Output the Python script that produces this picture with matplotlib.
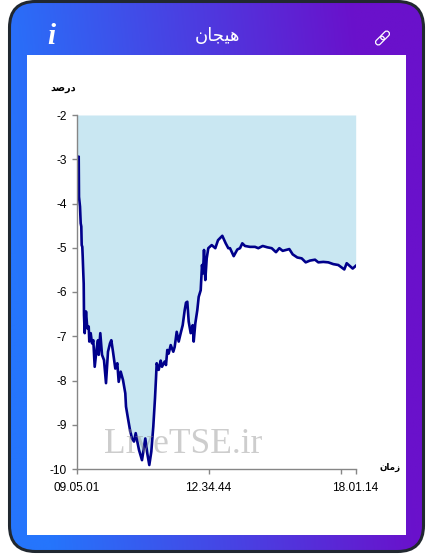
import numpy as np
import matplotlib
matplotlib.use('Agg')
import matplotlib.pyplot as plt
from matplotlib.patches import FancyBboxPatch, Rectangle
from matplotlib.colors import LinearSegmentedColormap
from matplotlib.transforms import Affine2D

plt.rcParams['axes.unicode_minus'] = False

# data
idx = [0, 0.5, 1.2, 1.8, 2.2, 2.5, 3.5, 4.2, 4.8, 5.2, 5.8, 6.2, 6.8, 7.2,
       7.5, 8.2, 9.5, 10.8, 12.2, 12.8, 14.2, 15.5, 16.8, 18.2, 20.2, 21.5, 22.2, 23.8, 25.5, 27.5,
       29.5, 31.5, 33.5, 34.8, 36.5, 38.8, 40.8, 42.2, 44.2, 46.5, 48.8,
       49.5, 51.5, 53.5, 55.5, 57.5, 59.2, 60.8, 62.5, 65.5, 66.8, 68.8, 70.8, 72.8, 74.8, 76.8, 78.5,
       79.5, 80.2, 82.2, 84.2, 85.5, 88.2, 89.5, 90.8, 92.2, 94.2, 96.8, 98.2, 100.2, 102.2, 104.2,
       106.2, 108.2, 109.5, 110.8, 112.2, 114.2, 116.2, 117.2, 118.8, 120.8, 122.2, 124.2,
       125.5, 126.5, 127.5, 128.8, 130.2,
       131.8, 135.2, 138.8, 141.5, 145.8, 149.2, 151.8, 153.5, 157.2, 160.8, 163.5, 165.8, 168.5, 173.5,
       178.5, 181.8, 186.2, 190.8, 195.2, 199.5, 202.8, 206.2, 212.8, 216.2, 220.8, 225.2, 229.2, 233.5,
       238.5, 241.8, 246.8, 251.8, 256.8, 261.8, 267.8, 270.2, 276.2, 279.2]
percent = [-3.3, -3.32, -3.85, -3.02, -2.94, -3.85, -4.07, -4.45, -4.52, -4.94, -4.98, -5.2, -5.58, -5.81,
           -6.52, -6.93, -6.44, -6.82, -6.78, -7.12, -6.93, -7.16, -7.09, -7.69, -7.27, -7.09, -7.42, -6.93, -7.42, -7.54,
           -8.06, -7.35, -7.16, -7.09, -7.35, -7.73, -7.61, -8.03, -7.80, -7.99, -8.29,
           -8.59, -8.86, -9.12, -9.31, -9.38, -9.19, -9.38, -9.57, -9.80, -9.61, -9.31, -9.65, -9.91, -9.61, -9.04, -8.40,
           -7.95, -7.61, -7.76, -7.55, -7.69, -7.57, -7.65, -7.31, -7.39, -7.20, -7.35, -7.24, -6.90, -7.12, -6.93,
           -6.75, -6.41, -6.24, -6.22, -6.67, -6.93, -6.75, -7.12, -6.71, -6.41, -6.11, -5.96,
           -5.39, -5.58, -5.05, -5.73, -5.24,
           -5.01, -4.94, -5.01, -4.83, -4.73, -4.90, -5.01, -5.01, -5.19, -5.04, -5.01, -4.90, -4.96, -4.98,
           -4.98, -5.01, -4.96, -4.99, -5.01, -5.10, -5.01, -5.07, -5.03, -5.15, -5.22, -5.24, -5.33, -5.29,
           -5.27, -5.33, -5.32, -5.33, -5.37, -5.39, -5.49, -5.35, -5.47, -5.41]
yticks = [-2, -3, -4, -5, -6, -7, -8, -9, -10]
xticks = [0, 132, 264.5, 279]
xticklabels = ['09.05.01', '12.34.44', '', '18.01.14']

# shaped persian text, written in visual order because matplotlib does no shaping
title = '\uFEE5\uFE8E\uFEA0\uFBFF\uFEEB'
ylabel = '\uFEAA\uFEBB\uFEAD\uFEA9'
xlabel = '\uFEE5\uFE8E\uFEE3\uFEAF'

W, H = 433, 554
fig = plt.figure(figsize=(W / 100, H / 100), dpi=100, facecolor='white')

# card behind the chart, in pixel coords
bg = fig.add_axes([0, 0, 1, 1])
bg.set_xlim(0, W)
bg.set_ylim(H, 0)
bg.axis('off')

cmap = LinearSegmentedColormap.from_list('card', ['#2575fc', '#6a11cb'])
xx, yy = np.meshgrid(np.linspace(0, W, 200), np.linspace(0, H, 200))
grad = np.clip((xx - 50 + (H - yy) * 0.12) / 370, 0, 1)
im = bg.imshow(grad, cmap=cmap, extent=(0, W, H, 0), aspect='auto', zorder=1)
card = FancyBboxPatch((9.5, 1.5), 414, 550, boxstyle='round,pad=0,rounding_size=26',
                      facecolor='none', edgecolor='#212830', linewidth=2.2, zorder=3)
bg.add_patch(card)
im.set_clip_path(card)
bg.add_patch(Rectangle((27, 55), 379, 480, facecolor='white', edgecolor='none', zorder=2))

bg.text(217.5, 35.5, title, color='white', fontsize=13, family='DejaVu Sans', ha='center', va='center', zorder=4)
bg.text(51, 37, 'i', color='white', fontsize=21, family='Liberation Serif', weight='bold', style='italic',
        ha='center', va='center', zorder=4)
# link icon
for dx in [-3.6, 3.6]:
    tr = Affine2D().translate(-5 + dx, -2.7).rotate_deg(-45).translate(382.5, 38) + bg.transData
    bg.add_patch(FancyBboxPatch((0, 0), 10, 5.4, boxstyle='round,pad=0,rounding_size=2.6', facecolor='none',
                                edgecolor='white', linewidth=0.9, transform=tr, zorder=4))

bg.text(63.5, 88, ylabel, color='black', fontsize=7, weight='bold', family='DejaVu Sans', ha='center', va='center', zorder=4)
bg.text(390, 467, xlabel, color='black', fontsize=6.3, weight='bold', family='DejaVu Sans', ha='center', va='center', zorder=4)

# the chart
ax = fig.add_axes([76.5 / W, 1 - 469 / H, (356 - 76.5) / W, (469 - 115) / H])
ax.patch.set_alpha(0)
ax.fill_between(idx, percent, -2, color='#c9e7f2', linewidth=0)
ax.plot(idx, percent, color='#00008b', linewidth=1.9, solid_joinstyle='round')
ax.set_xlim(0, 279.5)
ax.set_ylim(-10, -2)
ax.set_yticks(yticks)
ax.set_xticks(xticks)
ax.set_xticklabels(xticklabels)
ax.spines['top'].set_visible(False)
ax.spines['right'].set_visible(False)
for s in ['left', 'bottom']:
    ax.spines[s].set_color('#868686')
    ax.spines[s].set_linewidth(1)
ax.tick_params(axis='both', color='#868686', length=3.5, width=1, labelsize=8.6, labelcolor='black')
ax.tick_params(axis='x', pad=6)
ax.tick_params(axis='y', pad=3.5)
for lab in ax.get_xticklabels() + ax.get_yticklabels():
    lab.set_family('Liberation Sans')

# watermark on top of the line
fig.text(183 / W, 1 - 453 / H, 'LiveTSE.ir', color='#8a8a8a', alpha=0.42, fontsize=25.5,
         family='Liberation Serif', ha='center', va='baseline')

fig.savefig('out.png', dpi=100)
